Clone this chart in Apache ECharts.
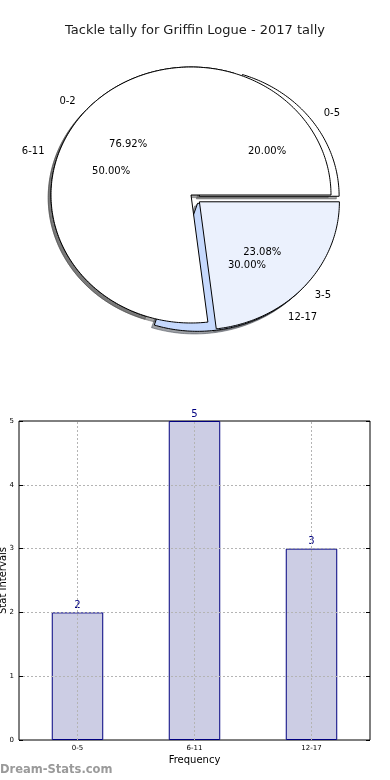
<!DOCTYPE html>
<html><head><meta charset="utf-8">
<script src="https://cdn.jsdelivr.net/npm/echarts@6/dist/echarts.min.js"></script>
<style>html,body{margin:0;padding:0;background:#fff}#c{width:390px;height:780px}</style>
</head><body><div id="c"></div>
<script>
const titleText = 'Tackle tally for Griffin Logue - 2017 tally';
const outerCats = ['0-5', '6-11', '12-17'];
const outerVals = [2, 5, 3];
const innerCats = ['0-2', '3-5'];
const innerVals = [10, 3];
const barCats = ['0-5', '6-11', '12-17'];
const barVals = [2, 5, 3];
const yAxisName = 'Stat Intervals';
const xAxisName = 'Frequency';
const watermark = 'Dream-Stats.com';

const PIE = {cx: 191, cy: 195, rx: 140, ry: 128};
const FONT = 'DejaVu Sans';
// explode offsets as fractions of the radii (x right, y up)
const outerStyle = {colors: ['#ffffff', '#ffffff', '#c6d9fd'], explode: [[0.058, -0.01], [0, 0], [0.047, -0.065]]};
const innerStyle = {colors: ['#ffffff', '#ebf1fd'], explode: [[0, 0], [0.06, -0.053]]};

function wedges(vals, explode) {
  const tot = vals.reduce((a, b) => a + b, 0);
  let acc = 0;
  return vals.map((v, i) => {
    const a1 = acc / tot * 360; acc += v; const a2 = acc / tot * 360;
    const mid = (a1 + a2) / 2 * Math.PI / 180;
    const ox = explode[i][0] * PIE.rx, oy = -explode[i][1] * PIE.ry;
    return {a1, a2, mid, ox, oy, pct: v / tot * 100};
  });
}
function poly(w, dx, dy) {
  const cx = PIE.cx + w.ox + dx, cy = PIE.cy + w.oy + dy;
  const pts = [[cx, cy]];
  const n = Math.max(2, Math.ceil(w.a2 - w.a1));
  for (let k = 0; k <= n; k++) {
    const t = (w.a1 + (w.a2 - w.a1) * k / n) * Math.PI / 180;
    pts.push([cx + PIE.rx * Math.cos(t), cy - PIE.ry * Math.sin(t)]);
  }
  return pts;
}
function shade(hex) {
  const r = parseInt(hex.slice(1, 3), 16), g = parseInt(hex.slice(3, 5), 16), b = parseInt(hex.slice(5, 7), 16);
  return 'rgba(' + Math.round(r * 0.3) + ',' + Math.round(g * 0.3) + ',' + Math.round(b * 0.3) + ',0.5)';
}
function pieSeries(kind, cats, vals, st, z) {
  const ws = wedges(vals, st.explode);
  const tot = vals.reduce((a, b) => a + b, 0);
  return {
    type: 'custom', coordinateSystem: 'none', z: z, silent: true, animation: false,
    data: vals.map(v => [v]),
    renderItem: function (params, api) {
      const i = params.dataIndex, w = ws[i];
      if (kind === 'shadow') {
        return {type: 'polygon', shape: {points: poly(w, -2.8, 2.6)},
          style: {fill: shade(st.colors[i]), stroke: shade(st.colors[i]), lineWidth: 1}};
      }
      if (kind === 'wedge') {
        return {type: 'polygon', shape: {points: poly(w, 0, 0)},
          style: {fill: st.colors[i], stroke: '#000', lineWidth: 1}};
      }
      const cx = PIE.cx + w.ox, cy = PIE.cy + w.oy;
      const c = Math.cos(w.mid), s = Math.sin(w.mid);
      return {type: 'group', children: [
        {type: 'text', x: cx + 1.1 * PIE.rx * c, y: cy - 1.1 * PIE.ry * s,
          style: {text: cats[i], align: c > 0 ? 'left' : 'right', verticalAlign: 'middle',
            font: '10px "' + FONT + '"', fill: '#000'}},
        {type: 'text', x: cx + 0.6 * PIE.rx * c, y: cy - 0.6 * PIE.ry * s,
          style: {text: (api.value(0) / tot * 100).toFixed(2) + '%',
            align: 'center', verticalAlign: 'middle', font: '10px "' + FONT + '"', fill: '#000'}}
      ]};
    }
  };
}

const gridLine = {type: [2, 2], color: '#b4b4b4', width: 1};
const chart = echarts.init(document.getElementById('c'), null, {renderer: 'canvas'});
chart.setOption({
  animation: false,
  backgroundColor: '#ffffff',
  textStyle: {fontFamily: FONT},
  title: {text: titleText, left: 'center', top: 19,
    textStyle: {fontSize: 13, fontWeight: 'normal', color: '#1a1a1a', fontFamily: FONT}},
  graphic: [{type: 'text', left: 0, top: 764,
    style: {text: watermark, font: 'bold 11.5px "' + FONT + '"', fill: '#9a9a9a'}}],
  grid: {left: 19, right: 20, top: 421, bottom: 40, show: true, borderColor: '#000', borderWidth: 1,
    backgroundColor: 'transparent', containLabel: false, outerBoundsMode: 'none'},
  xAxis: [{type: 'category', data: barCats,
    axisLine: {show: false}, axisTick: {show: false},
    axisLabel: {fontSize: 7, color: '#000', margin: 5},
    splitLine: {show: false},
    name: xAxisName, nameLocation: 'middle', nameGap: 15, nameMoveOverlap: false,
    nameTextStyle: {fontSize: 10, color: '#000'}}],
  yAxis: [{type: 'value', min: 0, max: 5, interval: 1, z: 5,
    axisLine: {show: false},
    axisTick: {show: true, inside: true, length: 4, lineStyle: {color: '#000'}},
    axisLabel: {fontSize: 7, color: '#000', margin: 5},
    splitLine: {show: true, showMinLine: false, showMaxLine: false, lineStyle: gridLine},
    name: yAxisName, nameLocation: 'middle', nameGap: 11, nameRotate: 90, nameMoveOverlap: false,
    nameTextStyle: {fontSize: 10, color: '#000'}},
    {type: 'value', min: 0, max: 5, interval: 1, position: 'right', z: 5,
    axisLine: {show: false}, axisLabel: {show: false}, splitLine: {show: false},
    axisTick: {show: true, inside: true, length: 4, lineStyle: {color: '#000'}}}],
  series: [
    pieSeries('shadow', outerCats, outerVals, outerStyle, 1),
    pieSeries('shadow', innerCats, innerVals, innerStyle, 1),
    pieSeries('wedge', outerCats, outerVals, outerStyle, 2),
    pieSeries('wedge', innerCats, innerVals, innerStyle, 3),
    pieSeries('label', outerCats, outerVals, outerStyle, 4),
    pieSeries('label', innerCats, innerVals, innerStyle, 4),
    {type: 'bar', data: barVals, barWidth: '44%', z: 2,
      itemStyle: {color: '#cccde4', borderColor: '#000080', borderWidth: 1},
      label: {show: true, position: 'top', color: '#000080', fontSize: 10, distance: 2},
      markLine: {silent: true, symbol: 'none', animation: false,
        label: {show: false},
        lineStyle: gridLine,
        data: barCats.map(c => ({xAxis: c}))}}
  ]
});
</script></body></html>
